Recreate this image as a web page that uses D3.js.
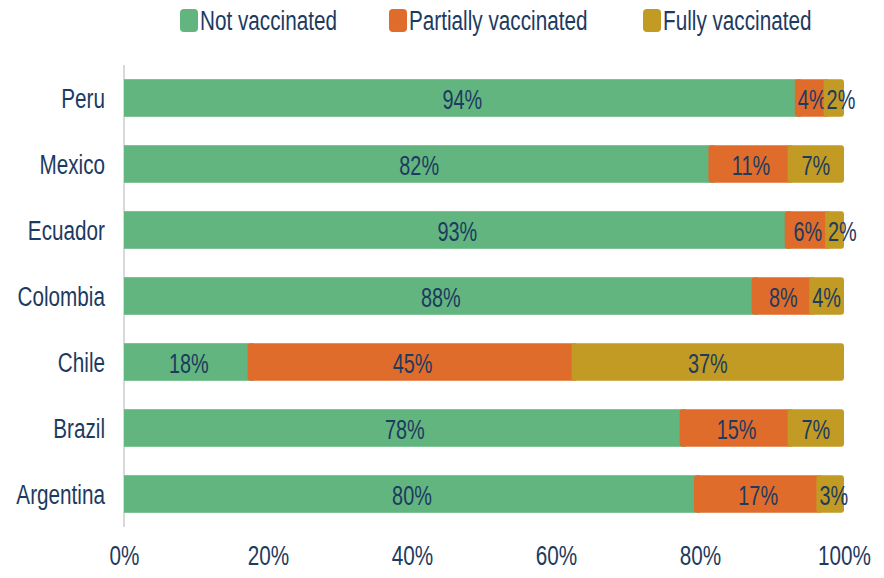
<!DOCTYPE html>
<meta charset="utf-8" />
<style>
  body { margin: 0; background: #fff; }
  text { font-family: "Liberation Sans", Arial, sans-serif; fill: #1d3a5f; }
</style>
<body>
  <div id="chart"></div>
  <script src="https://d3js.org/d3.v7.min.js"></script>
  <script>
    // data (percent of people, by status)
    var countries = ["Peru", "Mexico", "Ecuador", "Colombia", "Chile", "Brazil", "Argentina"];
    var statuses = ["Not vaccinated", "Partially vaccinated", "Fully vaccinated"];
    var notVaccinated = [94, 82, 92.6, 88, 18, 78, 80];
    var partially = [4, 11, 5.6, 8, 45, 15, 17];
    var fully = [2, 7, 1.8, 4, 37, 7, 3];
    var xTicks = [0, 0.2, 0.4, 0.6, 0.8, 1];

    var colors = ["#62b57f", "#e06c2b", "#c19b23"];
    var squeeze = 0.74; // text in the picture is narrow
    var labelSqueeze = 0.71;
    var overlap = 6;

    var margin = { top: 65, right: 40, bottom: 51, left: 124 },
      width = 884 - margin.left - margin.right,
      height = 578 - margin.top - margin.bottom;

    var svg = d3
      .select("#chart")
      .append("svg")
      .attr("width", 884)
      .attr("height", 578);

    var g = svg
      .append("g")
      .attr("transform", "translate(" + margin.left + "," + margin.top + ")");

    var x = d3.scaleLinear().domain([0, 1]).range([0, width]);
    var y = d3.scaleBand().domain(countries).range([0, height]).paddingInner(0.43).paddingOuter(0.215);

    // build rows for the stack
    var rows = countries.map(function (c, i) {
      return {
        country: c,
        "Not vaccinated": notVaccinated[i] / 100,
        "Partially vaccinated": partially[i] / 100,
        "Fully vaccinated": fully[i] / 100,
      };
    });
    var series = d3.stack().keys(statuses)(rows);

    // left axis line
    g.append("line")
      .attr("x1", 0)
      .attr("x2", 0)
      .attr("y1", 0)
      .attr("y2", height)
      .style("stroke", "#d9d9d9")
      .style("stroke-width", 2);

    // bars
    var layer = g
      .selectAll("g.layer")
      .data(series)
      .enter()
      .append("g")
      .attr("class", "layer")
      .style("fill", function (d, i) {
        return colors[i];
      });

    var segs = function (d) {
      return d.map(function (p) {
        return { s: d.index, p: p };
      });
    };
    // visible left edge (later segments tuck under the previous one)
    var left = function (d) {
      return x(d.p[0]) - (d.s > 0 ? overlap : 0);
    };

    layer
      .selectAll("rect")
      .data(segs)
      .enter()
      .append("rect")
      .attr("x", left)
      .attr("y", function (d) {
        return y(d.p.data.country);
      })
      .attr("width", function (d) {
        return x(d.p[1]) - left(d);
      })
      .attr("height", y.bandwidth())
      .attr("rx", function (d) {
        return d.s > 0 ? 3 : 0;
      });

    // value labels
    layer
      .selectAll("text")
      .data(segs)
      .enter()
      .append("text")
      .each(function (d) {
        var w = x(d.p[1]) - x(d.p[0]);
        d.narrow = w < 25;
        d.lx = d.narrow ? left(d) + 3 : (left(d) + x(d.p[1])) / 2;
      })
      .attr("transform", function (d) {
        return (
          "translate(" + d.lx + "," + (y(d.p.data.country) + y.bandwidth() / 2) + ") scale(" + labelSqueeze + ",1)"
        );
      })
      .attr("dy", "0.38em")
      .style("text-anchor", function (d) {
        return d.narrow ? "start" : "middle";
      })
      .style("font-size", "28px")
      .text(function (d) {
        return Math.round((d.p[1] - d.p[0]) * 100) + "%";
      });

    // country axis
    var yAxis = g.append("g").call(d3.axisLeft(y).tickSize(0));
    yAxis.select(".domain").remove();
    yAxis
      .selectAll("text")
      .attr("x", -19 / squeeze)
      .attr("dy", "0.36em")
      .attr("transform", "scale(" + squeeze + ",1)")
      .style("font-size", "28px")
      .attr("fill", null);

    // percent axis
    var xAxis = g
      .append("g")
      .attr("transform", "translate(0," + height + ")")
      .call(d3.axisBottom(x).tickValues(xTicks).tickFormat(d3.format(".0%")).tickSize(0).tickPadding(18));
    xAxis.select(".domain").remove();
    xAxis
      .selectAll("text")
      .attr("transform", "scale(" + squeeze + ",1)")
      .style("font-size", "28px")
      .attr("fill", null);
    yAxis.attr("font-family", null).attr("font-size", null);
    xAxis.attr("font-family", null).attr("font-size", null);

    // legend
    var legendX = [180, 389, 643];
    var legend = svg
      .selectAll("g.legend")
      .data(statuses)
      .enter()
      .append("g")
      .attr("class", "legend")
      .attr("transform", function (d, i) {
        return "translate(" + legendX[i] + ",0)";
      });
    legend
      .append("rect")
      .attr("x", 0)
      .attr("y", 9)
      .attr("width", 18)
      .attr("height", 23)
      .attr("rx", 4)
      .style("fill", function (d, i) {
        return colors[i];
      });
    legend
      .append("text")
      .attr("transform", "translate(20,30) scale(" + squeeze + ",1)")
      .style("font-size", "28px")
      .text(function (d) {
        return d;
      });
  </script>
</body>
